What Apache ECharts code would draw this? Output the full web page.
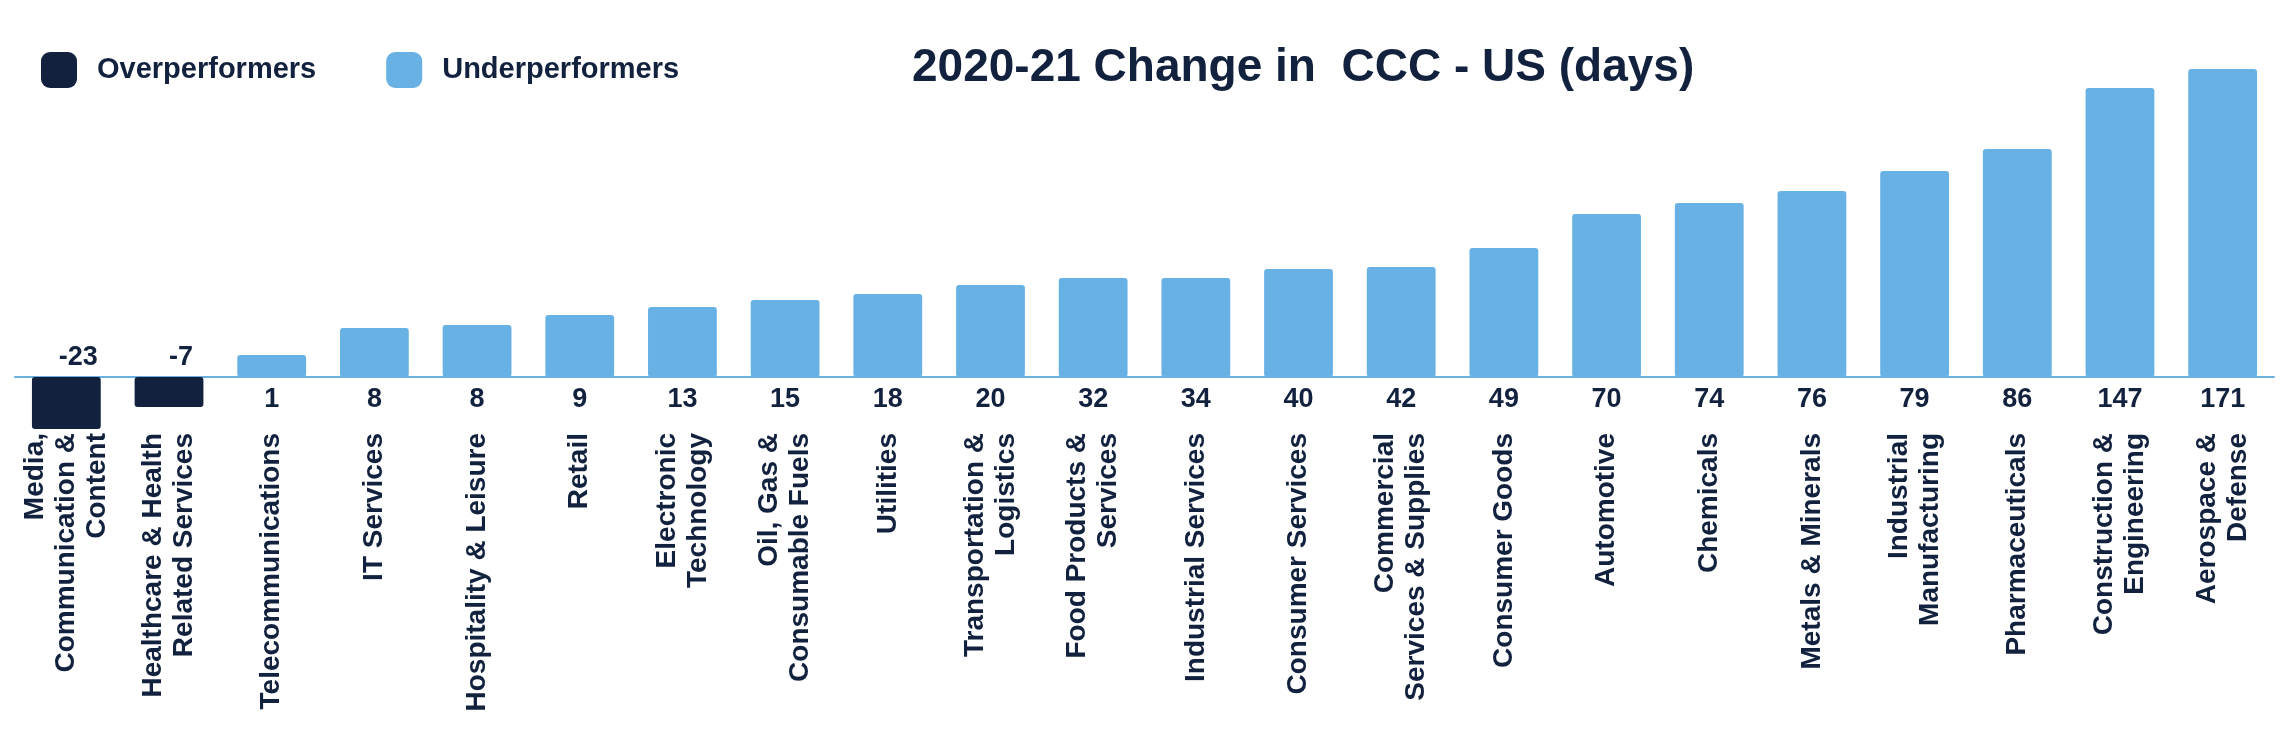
<!DOCTYPE html>
<html>
<head>
<meta charset="utf-8">
<script src="https://cdn.jsdelivr.net/npm/echarts@6/dist/echarts.min.js"></script>
<style>
  html, body { margin: 0; padding: 0; background: #ffffff; }
  #chart { width: 2280px; height: 747px; }
</style>
</head>
<body>
<div id="chart"></div>
<script>
// Categories (line breaks as in the source labels)
const categories = [
  'Media,\nCommunication &\nContent',
  'Healthcare & Health\nRelated Services',
  'Telecommunications',
  'IT Services',
  'Hospitality & Leisure',
  'Retail',
  'Electronic\nTechnology',
  'Oil, Gas &\nConsumable Fuels',
  'Utilities',
  'Transportation &\nLogistics',
  'Food Products &\nServices',
  'Industrial Services',
  'Consumer Services',
  'Commercial\nServices & Supplies',
  'Consumer Goods',
  'Automotive',
  'Chemicals',
  'Metals & Minerals',
  'Industrial\nManufacturing',
  'Pharmaceuticals',
  'Construction &\nEngineering',
  'Aerospace &\nDefense'
];

// Change in CCC (days), as printed on the chart
const changeDays = [-23, -7, 1, 8, 8, 9, 13, 15, 18, 20, 32, 34, 40, 42, 49, 70, 74, 76, 79, 86, 147, 171];

// Bar lengths as drawn in the source (not proportional to the printed values),
// read from the picture in relative units
const barLengths = [-52, -30, 22, 49, 52, 62, 70, 77, 83, 92, 99, 99, 108, 110, 129, 163, 174, 186, 206, 228, 289, 308];

const seriesNames = ['Overperformers', 'Underperformers'];
const titleText = '2020-21 Change in  CCC - US (days)';

const NAVY = '#12223e';
const BLUE = '#68b1e5';
const FONT = 'Liberation Sans';

const overData = barLengths.map((v, i) => changeDays[i] < 0 ? v : '-');
const underData = barLengths.map((v, i) => changeDays[i] >= 0 ? v : '-');

const chart = echarts.init(document.getElementById('chart'), null, { renderer: 'canvas' });

const valueLabel = (pos, offset, dist) => ({
  show: true,
  position: pos,
  distance: dist,
  offset: offset,
  color: NAVY,
  fontFamily: FONT,
  fontWeight: 'bold',
  fontSize: 27,
  formatter: p => String(changeDays[p.dataIndex])
});

chart.setOption({
  backgroundColor: '#ffffff',
  animation: false,
  title: {
    text: titleText,
    left: 907,
    top: 40,
    textStyle: { color: NAVY, fontFamily: FONT, fontWeight: 'bold', fontSize: 46 }
  },
  legend: {
    left: 36,
    top: 47,
    icon: 'roundRect',
    itemWidth: 36,
    itemHeight: 36,
    itemGap: 70,
    data: seriesNames,
    textStyle: { color: NAVY, fontFamily: FONT, fontWeight: 'bold', fontSize: 29, padding: [0, 0, 0, 15] }
  },
  grid: { left: 15, right: 6, top: 57, bottom: 310, containLabel: false, outerBoundsMode: 'none' },
  xAxis: {
    type: 'category',
    data: categories,
    axisLine: { show: true, onZero: true, lineStyle: { color: '#6cb0e0', width: 2 } },
    axisTick: { show: false },
    axisLabel: {
      interval: 0,
      rotate: 90,
      margin: -4,
      hideOverlap: false,
      color: NAVY,
      fontFamily: FONT,
      fontWeight: 'bold',
      fontSize: 28,
      lineHeight: 31
    }
  },
  yAxis: {
    type: 'value',
    min: -60,
    max: 320,
    show: false,
    splitLine: { show: false }
  },
  series: [
    {
      name: seriesNames[0],
      type: 'bar',
      data: overData,
      barGap: '-100%',
      barCategoryGap: '33%',
      itemStyle: { color: NAVY, borderRadius: 3 },
      label: valueLabel('top', [12, 0], 6)
    },
    {
      name: seriesNames[1],
      type: 'bar',
      data: underData,
      barGap: '-100%',
      barCategoryGap: '33%',
      itemStyle: { color: BLUE, borderRadius: 3 },
      label: valueLabel('bottom', [0, 0], 9)
    }
  ]
});
</script>
</body>
</html>
